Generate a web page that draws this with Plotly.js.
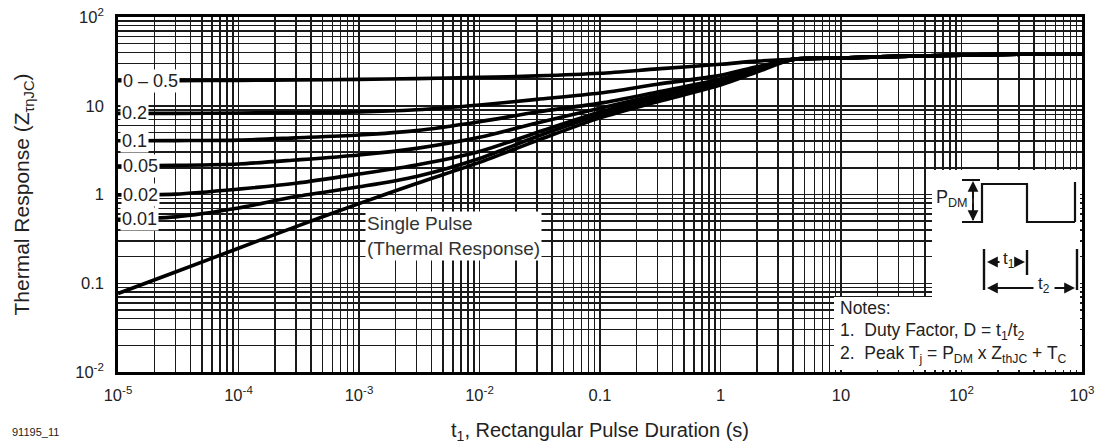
<!DOCTYPE html>
<html>
<head>
<meta charset="utf-8">
<script src="https://cdn.plot.ly/plotly-3.0.1.min.js"></script>
<style>html,body{margin:0;padding:0;background:#fff;}#chart{width:1102px;height:444px;}</style>
</head>
<body>
<div id="chart"></div>
<script>
// ---- data ----
const pulseDuration = [1e-5, 3e-5, 1e-4, 3e-4, 1e-3, 3e-3, 1e-2, 3e-2, 0.1, 0.3, 1, 2, 4, 10, 30, 100, 300, 1000];
const dutyLabels = ['0 \u2013 0.5', '0.2', '0.1', '0.05', '0.02', '0.01', 'Single Pulse'];
const zD05  = [19.1, 19.2, 19.3, 19.5, 19.8, 20.2, 20.9, 21.7, 23.2, 26.0, 29.3, 31.8, 33.4, 34.5, 36.0, 37.2, 38.0, 38.5];
const zD02  = [8.2, 8.2, 8.3, 8.4, 8.5, 9.0, 10.2, 11.8, 13.9, 17.5, 22.0, 27.5, 33.3, 34.5, 36.0, 37.2, 38.0, 38.5];
const zD01  = [4.03, 4.05, 4.1, 4.35, 4.68, 5.24, 6.6, 8.5, 10.7, 14.3, 20.0, 26.6, 33.3, 34.5, 36.0, 37.2, 38.0, 38.5];
const zD005 = [2.09, 2.13, 2.21, 2.45, 2.79, 3.31, 4.41, 6.4, 9.4, 13.2, 19.5, 26.0, 33.3, 34.5, 36.0, 37.2, 38.0, 38.5];
const zD002 = [0.99, 1.01, 1.15, 1.34, 1.70, 2.15, 3.05, 5.0, 8.5, 12.6, 19.0, 25.6, 33.3, 34.5, 36.0, 37.2, 38.0, 38.5];
const zD001 = [0.525, 0.56, 0.705, 0.95, 1.22, 1.60, 2.55, 4.5, 7.9, 12.0, 18.5, 25.3, 33.3, 34.5, 36.0, 37.2, 38.0, 38.5];
const zSingle = [0.0767, 0.134, 0.248, 0.435, 0.79, 1.33, 2.3, 4.05, 7.3, 11.1, 17.1, 24.0, 33.3, 34.5, 36.0, 37.2, 38.0, 38.5];
const xTickVals = [1e-5, 1e-4, 1e-3, 1e-2, 0.1, 1, 10, 100, 1000];
const xTickText = ['10<sup>-5</sup>', '10<sup>-4</sup>', '10<sup>-3</sup>', '10<sup>-2</sup>', '0.1', '1', '10', '10<sup>2</sup>', '10<sup>3</sup>'];
const yTickVals = [0.01, 0.1, 1, 10, 100];
const yTickText = ['10<sup>-2</sup>', '0.1', '1', '10', '10<sup>2</sup>'];

// ---- layout helpers (plot frame in px) ----
const L = 118, R = 1082, T = 17, B = 372;
const px = x => (x - L) / (R - L);
const py = y => (B - y) / (B - T);

function minorVals(lo, hi) {
  const v = [];
  for (let d = lo; d < hi; d++) for (let k = 2; k <= 9; k++) v.push(k * Math.pow(10, d));
  return v;
}

const series = [zD05, zD02, zD01, zD005, zD002, zD001, zSingle];
const traces = series.map((z, i) => ({
  x: pulseDuration, y: z, type: 'scatter', mode: 'lines', name: dutyLabels[i],
  line: {color: '#000', width: 3.6, shape: 'spline', smoothing: 0.8},
  showlegend: false, hoverinfo: 'x+y+name'
}));

const font = 'Liberation Sans, Arial, Helvetica, sans-serif';
const ink = '#222';
const grid = {color: '#1a1a1a', width: 1.5};

const lineShape = (x0, y0, x1, y1, w) => ({type: 'line', xref: 'paper', yref: 'paper',
  x0: px(x0), y0: py(y0), x1: px(x1), y1: py(y1), line: {color: '#111', width: w || 2}, layer: 'above'});

const shapes = [
  {type: 'rect', xref: 'paper', yref: 'paper', x0: px(932), x1: px(1080), y0: py(297), y1: py(170),
   fillcolor: '#fff', line: {width: 0}, layer: 'above'},
  {type: 'rect', xref: 'paper', yref: 'paper', x0: px(834), x1: px(1080), y0: py(370), y1: py(297),
   fillcolor: '#fff', line: {width: 0}, layer: 'above'},
  // pulse waveform
  {type: 'path', xref: 'paper', yref: 'paper', layer: 'above', line: {color: '#111', width: 2.2},
   path: `M ${px(962)} ${py(222)} L ${px(982)} ${py(222)} L ${px(982)} ${py(184)} L ${px(1027)} ${py(184)} L ${px(1027)} ${py(222)} L ${px(1075)} ${py(222)} M ${px(1075)} ${py(222)} L ${px(1075)} ${py(182)}`},
  lineShape(962, 180, 980, 180),
  lineShape(973, 183, 973, 220, 1.8),
  // t1/t2 markers
  lineShape(984, 249, 984, 290, 2.4),
  lineShape(1027, 250, 1027, 275, 2.4),
  lineShape(1077, 249, 1077, 290, 2.4)
];

const arrow = (xh, yh, xt, yt) => ({xref: 'paper', yref: 'paper', x: px(xh), y: py(yh), text: '',
  showarrow: true, ax: xt - xh, ay: yt - yh, arrowhead: 2, arrowsize: 1.2, arrowwidth: 1.8, arrowcolor: '#111'});

const labelFont = {family: font, size: 18, color: ink};
const annotations = [];
// curve labels at left edge
const curveLabelX = [121, 120, 120, 121, 121, 120];
series.slice(0, 6).forEach((z, i) => {
  annotations.push({xref: 'paper', yref: 'y', x: px(curveLabelX[i]), y: Math.log10(z[0]),
    xanchor: 'left', yanchor: 'middle', text: dutyLabels[i], showarrow: false,
    bgcolor: '#fff', borderpad: 1, font: labelFont});
});
annotations.push(
  {xref: 'paper', yref: 'paper', x: px(365), y: py(211), xanchor: 'left', yanchor: 'top', align: 'left',
   text: 'Single Pulse<br>(Thermal Response)', showarrow: false, bgcolor: '#fff', borderpad: 1,
   font: {family: font, size: 19, color: '#333'}},
  {xref: 'paper', yref: 'paper', x: px(934), y: py(198), xanchor: 'left', yanchor: 'middle',
   text: 'P<sub>DM</sub>', showarrow: false, font: {family: font, size: 18, color: ink}},
  arrow(973, 181, 973, 200), arrow(973, 221, 973, 202),
  {xref: 'paper', yref: 'paper', x: px(1009), y: py(260), xanchor: 'center', yanchor: 'middle',
   text: 't<sub>1</sub>', showarrow: false, font: {family: font, size: 17, color: ink}},
  arrow(987, 262, 1001, 262), arrow(1025, 262, 1018, 262),
  {xref: 'paper', yref: 'paper', x: px(1044), y: py(285), xanchor: 'center', yanchor: 'middle',
   text: 't<sub>2</sub>', showarrow: false, bgcolor: '#fff', borderpad: 0, font: {family: font, size: 17, color: ink}},
  arrow(987, 288, 1035, 288), arrow(1075, 288, 1053, 288),
  {xref: 'paper', yref: 'paper', x: px(838), y: py(308), xanchor: 'left', yanchor: 'middle',
   text: 'Notes:', showarrow: false, font: {family: font, size: 17.5, color: ink}},
  {xref: 'paper', yref: 'paper', x: px(838), y: py(331), xanchor: 'left', yanchor: 'middle',
   text: '1.  Duty Factor, D = t<sub>1</sub>/t<sub>2</sub>', showarrow: false, font: {family: font, size: 17.5, color: ink}},
  {xref: 'paper', yref: 'paper', x: px(838), y: py(354), xanchor: 'left', yanchor: 'middle',
   text: '2.  Peak T<sub>j</sub> = P<sub>DM</sub> x Z<sub>thJC</sub> + T<sub>C</sub>', showarrow: false, font: {family: font, size: 17.5, color: ink}},
  {xref: 'paper', yref: 'paper', x: px(10), y: py(432), xanchor: 'left', yanchor: 'middle',
   text: '91195_11', showarrow: false, font: {family: font, size: 11, color: ink}}
);

const axisCommon = {
  type: 'log', showgrid: true, gridcolor: grid.color, gridwidth: grid.width,
  showline: true, linecolor: '#000', linewidth: 2.8, mirror: true, ticks: '',
  zeroline: false, tickfont: {family: font, size: 16.5, color: ink}
};

const layout = {
  width: 1102, height: 444,
  margin: {l: L, r: 1102 - R, t: T, b: 444 - B},
  paper_bgcolor: '#fff', plot_bgcolor: '#fff',
  showlegend: false,
  xaxis: Object.assign({}, axisCommon, {
    range: [-5, 3], tickmode: 'array', tickvals: xTickVals, ticktext: xTickText, ticklabelstandoff: 6,
    minor: {tickmode: 'array', tickvals: minorVals(-5, 3), showgrid: true, gridcolor: grid.color, gridwidth: grid.width, ticks: ''},
    title: {text: 't<sub>1</sub>, Rectangular Pulse Duration (s)', font: {family: font, size: 20, color: ink}, standoff: 22}
  }),
  yaxis: Object.assign({}, axisCommon, {
    range: [-2, 2], tickmode: 'array', tickvals: yTickVals, ticktext: yTickText, ticklabelstandoff: 8,
    minor: {tickmode: 'array', tickvals: minorVals(-2, 2), showgrid: true, gridcolor: grid.color, gridwidth: grid.width, ticks: ''},
    title: {text: 'Thermal Response (Z<sub>\u03c4\u03b7JC</sub>)', font: {family: font, size: 21, color: ink}, standoff: 40}
  }),
  shapes: shapes,
  annotations: annotations
};

Plotly.newPlot('chart', traces, layout, {displayModeBar: false, staticPlot: true});
</script>
</body>
</html>
